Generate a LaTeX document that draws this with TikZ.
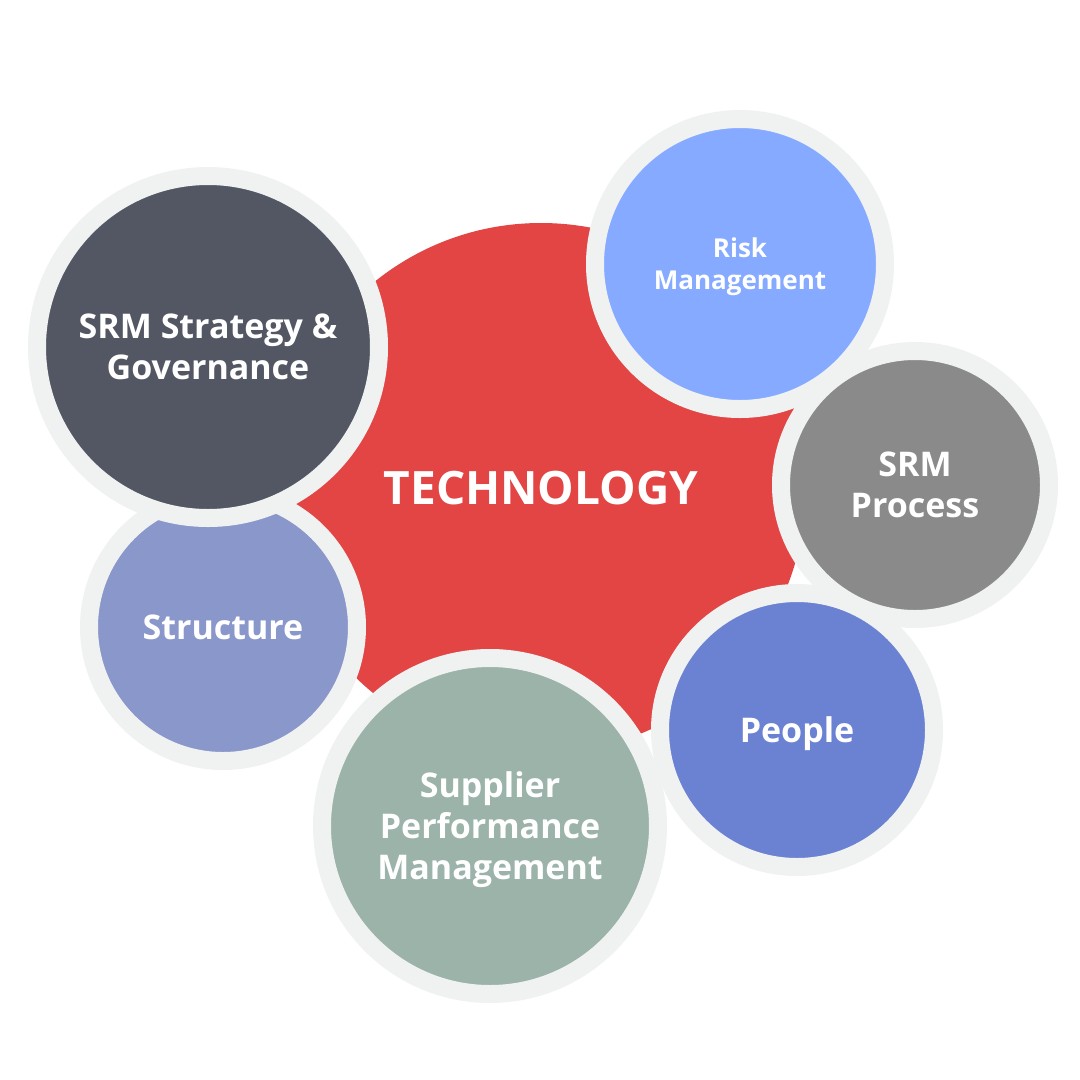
\documentclass[tikz,border=0pt]{standalone}
\usepackage{fontspec}
\setmainfont{Open Sans}
\usetikzlibrary{positioning}

\definecolor{techred}{HTML}{E34444}
\definecolor{ringgray}{HTML}{F0F2F1}
\definecolor{stratgray}{HTML}{535763}
\definecolor{structblue}{HTML}{8A97CB}
\definecolor{supplgreen}{HTML}{9BB3A9}
\definecolor{peopleblue}{HTML}{6B82D3}
\definecolor{procgray}{HTML}{8A8A8A}
\definecolor{riskblue}{HTML}{85AAFF}

\tikzset{
    bubble/.style={circle, draw=ringgray, line width=18pt, inner sep=0pt,
        text=white, align=center, text depth=0pt},
    bigfont/.style={font=\bfseries\fontsize{34}{41}\selectfont},
    smallfont/.style={font=\bfseries\fontsize{26}{32}\selectfont}
}

\begin{document}
\begin{tikzpicture}[x=1pt, y=-1pt]
    \fill[white] (0,0) rectangle (1080,1080);
    \useasboundingbox (0,0) rectangle (1080,1080);
    \node[circle, fill=techred, minimum size=530pt, inner sep=0pt, text=white,
        font=\bfseries\fontsize{46}{50}\selectfont] (tech) at (541,488) {TECHNOLOGY};
    \node[bubble, bigfont, fill=structblue, minimum size=268pt] (structure) at (223,627) {Structure};
    \node[bubble, bigfont, fill=stratgray, minimum size=342pt] (strategy) at (208,347) {SRM Strategy \&\\Governance};
    \node[bubble, bigfont, fill=supplgreen, minimum size=336pt] (supplier) at (490,826) {Supplier\\Performance\\Management};
    \node[bubble, bigfont, fill=procgray, minimum size=268pt] (process) at (915,485) {SRM\\Process};
    \node[bubble, bigfont, fill=peopleblue, minimum size=274pt] (people) at (797,730) {People};
    \node[bubble, smallfont, fill=riskblue, minimum size=290pt] (risk) at (740,264) {Risk\\Management};
\end{tikzpicture}
\end{document}
